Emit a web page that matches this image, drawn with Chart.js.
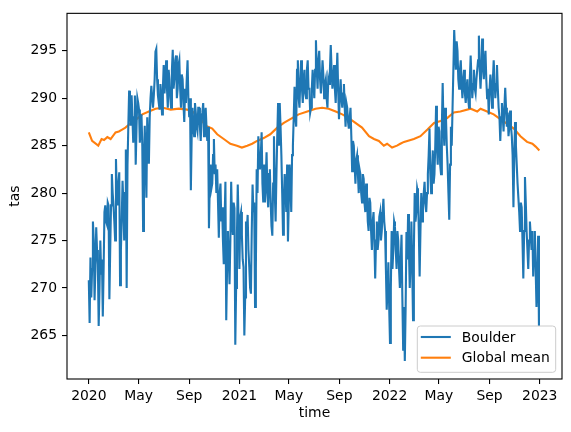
<!DOCTYPE html>
<html>
<head>
<meta charset="utf-8">
<script src="https://cdn.jsdelivr.net/npm/chart.js@4.4.1/dist/chart.umd.min.js"></script>
<style>
  html,body{margin:0;padding:0;background:#fff;}
  #wrap{width:571px;height:432px;}
</style>
</head>
<body>
<div id="wrap"><canvas id="c" width="571" height="432"></canvas></div>
<script>
// Boulder tas, every 2 days from 2020-01-01 (day 0), 60 days per row
const boulderStep = 2;
const boulderTas = [
  270.8, 266.3, 273.2, 269, 272, 277, 275, 268.7, 272, 276.4, 274, 272.5, 266, 270, 275, 271.5, 273, 267, 272, 278, 278.7, 277, 276.7, 279, 278.7, 268.8, 274, 278.7, 282, 280,
  278.7, 277, 275, 283.6, 280, 278.7, 281, 282.2, 270.3, 274, 277.3, 281.3, 279, 275, 280, 284.6, 270, 282.9, 287, 290.8, 289, 287.1, 290.3, 288, 285.3, 288, 290.3, 283, 287, 290,
  289.5, 288.8, 285.3, 287, 288.3, 285, 276, 283, 287.1, 283, 279.5, 288, 285, 283.1, 288, 290, 291.3, 290, 289, 290.3, 292, 294.9, 295.2, 292, 290.3, 289.5, 288.8, 291.5, 290, 288.3,
  291, 293.5, 290.5, 292, 294, 291, 289, 293, 292, 290, 289, 293, 295.1, 291, 292, 294, 294.5, 290, 291, 293.5, 294, 291, 289, 292.5, 292, 289.5, 287.5, 291, 289.5, 292,
  294, 290, 288, 290, 280.3, 286, 289, 287, 286, 289.5, 288.5, 287, 286.5, 289, 289, 287, 285.5, 288, 288.5, 289.5, 286, 288, 289, 287, 285.5, 287, 276.3, 281, 283, 280.5,
  281, 284, 285.7, 282, 283, 280, 282.5, 279, 275.3, 280, 281, 277, 278.5, 275, 272.5, 277, 281.2, 266.6, 272, 276, 273.5, 270.4, 275, 281.2, 277, 275.6, 279, 278.4, 264, 270,
  275.5, 280.9, 277, 272, 277.5, 278, 275.6, 273, 272.2, 265, 269, 277, 276, 277.7, 274, 272.2, 270, 269.4, 276, 280.9, 278, 279, 268, 272, 282.5, 280, 286, 283, 282.5, 284,
  286.4, 281, 279, 283, 279, 281.5, 284.3, 280, 278.5, 282, 282.5, 279, 276.5, 275.5, 281, 286, 280, 277, 282, 286, 289.5, 285, 289.5, 287, 284, 280, 275.6, 279, 282, 280,
  278, 283, 274.9, 279, 283, 281, 278, 284, 285, 288, 291.2, 288, 287, 293, 294, 290, 289, 292, 294, 291, 289.5, 292, 293, 290.5, 290, 293, 294, 291, 291, 288.5,
  289, 291, 293, 291.5, 290, 293, 296.1, 293, 291, 294, 295, 292, 290.5, 292, 294, 292.5, 290, 291.5, 292, 290, 289, 292, 291.5, 293, 295.6, 293, 291, 292, 293.5, 291,
  289.5, 292, 294.8, 291, 287.8, 290, 292, 290, 289, 290.5, 291.5, 289, 287, 289.5, 289, 287.5, 286.8, 288, 289, 286, 282.3, 285.5, 285, 283, 281, 283.5, 284, 282, 280, 282.5,
  282, 280, 279, 282, 281.5, 279, 278, 281, 280, 277, 276, 279.5, 279, 276, 274, 277, 278, 275, 271, 275, 277, 274, 275, 277.5, 278, 275, 276, 278, 279.4, 277,
  276, 272, 267.7, 270, 272.7, 268, 264.2, 270, 276, 272, 274, 277, 276.5, 274, 272, 276, 275, 272, 270, 273, 275.6, 269, 263.5, 268, 262.3, 268, 275.9, 273, 277.8, 274,
  270, 273, 277, 272, 266.6, 274, 280, 277, 278, 280.5, 280, 276, 271.2, 276, 280, 277, 278, 280, 281.2, 279, 278, 280, 282, 284, 286.8, 282, 280, 282, 284.5, 281,
  282, 285, 289.2, 285, 283, 287, 286.5, 283, 282, 287, 291.6, 287, 285, 289, 288, 285, 283, 280, 277.2, 283, 287, 285, 289, 293, 297.2, 295, 293, 296, 295, 292,
  291, 293, 294, 291.5, 290, 292, 293, 290.5, 289.5, 291, 292, 290, 289, 292, 294.5, 292, 290, 291.5, 293, 291, 290.5, 292, 293, 294, 296.6, 293, 291, 293, 296.3, 293.5,
  292, 294, 295, 292, 290, 291, 288.3, 291, 292.5, 291, 289, 292, 294, 292, 290, 291.5, 293.5, 291, 289, 288, 285.5, 288, 289.5, 288, 286.5, 289, 291.1, 289, 287, 288.5,
  286, 287, 288.7, 287, 286, 284, 278.5, 284, 287.5, 285, 283, 281, 279.5, 278, 276, 279, 278.5, 275, 271, 276, 281.7, 279, 276, 274, 272, 275, 277, 275.5, 274, 276,
  271.2, 274, 276, 272, 268, 271, 275.5, 266
];

// Global mean tas, read at irregular days
const globalDays = [
  0, 8, 23, 31, 37, 45, 53, 65, 73, 81, 89, 97, 113, 130, 146, 162, 180, 199, 219,
  239, 255, 272, 284, 300, 312, 328, 344, 360, 372, 385, 397, 409, 425, 441, 458, 474, 494, 510, 531,
  551, 567, 583, 600, 616, 632, 648, 664, 681, 693, 705, 717, 725, 737, 749, 757, 766, 790, 806, 823,
  839, 855, 871, 887, 903, 928, 944, 952, 968, 984, 1000, 1017, 1033, 1049, 1065, 1078, 1086, 1095
];
const globalTas = [
  286.4, 285.5, 285.0, 285.7, 285.6, 285.9, 285.7, 286.4, 286.5, 286.7, 286.9, 287.2, 287.7, 288.3, 288.6, 288.9, 289.0, 288.8, 288.9,
  288.8, 288.5, 287.8, 287.1, 286.8, 286.2, 285.7, 285.2, 285.0, 284.8, 285.0, 285.2, 285.5, 285.8, 286.2, 286.9, 287.4, 287.9, 288.3, 288.6,
  288.9, 289.0, 288.9, 288.6, 288.3, 287.9, 287.4, 286.9, 286.0, 285.7, 285.5, 285.0, 285.2, 284.8, 285.0, 285.2, 285.4, 285.7, 286.0, 286.7,
  287.4, 287.6, 287.9, 288.5, 288.6, 288.9, 288.6, 288.9, 288.6, 288.3, 287.8, 287.3, 286.8, 286.0, 285.4, 285.2, 284.9, 284.5
];

// x ticks: days since 2020-01-01
const tickDays = [0, 121, 244, 366, 486, 609, 731, 851, 974, 1096];
const tickLabels = ['2020', 'May', 'Sep', '2021', 'May', 'Sep', '2022', 'May', 'Sep', '2023'];
const yTicks = [265, 270, 275, 280, 285, 290, 295];

const FONT = {family: 'DejaVu Sans', size: 13.9};

const frame = {
  id: 'frame',
  afterDraw(chart){
    const {ctx, chartArea: a} = chart;
    ctx.save();
    ctx.strokeStyle = '#000'; ctx.lineWidth = 1.1;
    ctx.strokeRect(a.left, a.top, a.right - a.left, a.bottom - a.top);
    // legend, lower right
    const bx = a.right - 144.7, by = a.bottom - 53, bw = 138.4, bh = 46.3;
    ctx.beginPath();
    ctx.roundRect(bx, by, bw, bh, 3);
    ctx.fillStyle = 'rgba(255,255,255,0.8)'; ctx.fill();
    ctx.strokeStyle = '#cccccc'; ctx.lineWidth = 1; ctx.stroke();
    ctx.font = `${FONT.size}px ${FONT.family}`;
    ctx.textBaseline = 'middle';
    chart.data.datasets.forEach((ds, i)=>{
      const y = by + 11 + i*20.7;
      ctx.beginPath();
      ctx.moveTo(bx + 3.5, y); ctx.lineTo(bx + 33.5, y);
      ctx.strokeStyle = ds.borderColor; ctx.lineWidth = 2.1; ctx.stroke();
      ctx.fillStyle = '#000';
      ctx.fillText(ds.label, bx + 44.5, y + 1);
    });
    ctx.restore();
  }
};

new Chart(document.getElementById('c'), {
  type: 'line',
  data: {
    datasets: [
      {label: 'Boulder', data: boulderTas.map((v,i)=>({x: i*boulderStep, y: v})),
       borderColor: '#1f77b4', borderWidth: 2.1, pointRadius: 0, tension: 0},
      {label: 'Global mean', data: globalTas.map((v,i)=>({x: globalDays[i], y: v})),
       borderColor: '#ff7f0e', borderWidth: 2.1, pointRadius: 0, tension: 0}
    ]
  },
  options: {
    responsive: false, animation: false,
    layout: {padding: {top: 9, right: 9, left: 0, bottom: 0}},
    plugins: {legend: {display: false}, tooltip: {enabled: false}},
    scales: {
      x: {
        type: 'linear', min: -53, max: 1150,
        afterFit: s => { s.height = 53; },
        afterBuildTicks: s => { s.ticks = tickDays.map(v=>({value: v})); },
        ticks: {color: '#000', font: FONT, padding: 4, maxRotation: 0, autoSkip: false,
                callback: v => tickLabels[tickDays.indexOf(v)]},
        grid: {drawOnChartArea: false, drawTicks: true, tickLength: 5, color: '#000', lineWidth: 1.1},
        border: {display: false},
        title: {display: true, text: 'time', color: '#000', font: FONT, padding: {top: 0, bottom: 10}}
      },
      y: {
        min: 260.4, max: 298.95,
        afterFit: s => { s.width = 67; },
        afterBuildTicks: s => { s.ticks = yTicks.map(v=>({value: v})); },
        ticks: {color: '#000', font: FONT, padding: 5},
        grid: {drawOnChartArea: false, drawTicks: true, tickLength: 5, color: '#000', lineWidth: 1.1},
        border: {display: false},
        title: {display: true, text: 'tas', color: '#000', font: FONT, padding: {top: 7, bottom: 0}}
      }
    }
  },
  plugins: [frame]
});
</script>
</body>
</html>
